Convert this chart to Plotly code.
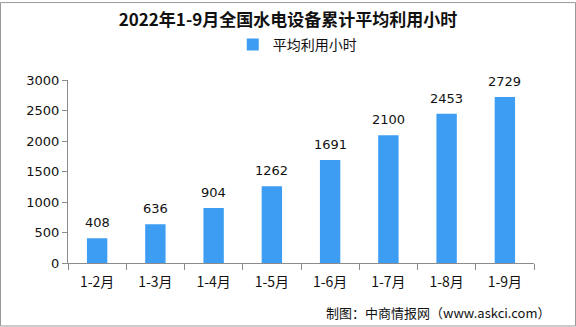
import plotly.graph_objects as go

categories = ["1-2月", "1-3月", "1-4月", "1-5月", "1-6月", "1-7月", "1-8月", "1-9月"]
values = [408, 636, 904, 1262, 1691, 2100, 2453, 2729]
series_name = "平均利用小时"
title_text = "2022年1-9月全国水电设备累计平均利用小时"
footer_text = "制图：中商情报网（www.askci.com）"
y_ticks = [0, 500, 1000, 1500, 2000, 2500, 3000]

CJK = "Noto Sans CJK SC"
bar_color = "#3d9df2"
axis_color = "#8c8c8c"

L, R, T, B = 68, 42, 79, 64
W, H = 576, 327
PW, PH = W - L - R, H - T - B


def px(x):
    return (x - L) / PW


def py(y):
    return (H - B - y) / PH


fig = go.Figure()
fig.add_trace(go.Bar(
    x=categories, y=values, name=series_name,
    marker=dict(color=bar_color, line=dict(width=0)),
    width=0.35,
))

for c, v in zip(categories, values):
    fig.add_annotation(x=c, y=v, xref="x", yref="y", text=str(v), showarrow=False,
                       yanchor="bottom", yshift=6,
                       font=dict(family="DejaVu Sans", size=13, color="#111111"))

fig.update_layout(
    width=W, height=H,
    margin=dict(l=L, r=R, t=T, b=B),
    paper_bgcolor="white", plot_bgcolor="rgba(0,0,0,0)",
    title=dict(text="<b>" + title_text + "</b>", x=0.5, xanchor="center",
               y=1 - 20 / H, yanchor="middle",
               font=dict(family=CJK, size=17, color="#111111")),
    showlegend=True,
    legend=dict(orientation="h", x=0.492, xanchor="center",
                y=1 - 45 / H, yref="container", yanchor="middle",
                font=dict(family=CJK, size=14, color="#111111"),
                itemwidth=30, bgcolor="rgba(0,0,0,0)"),
    xaxis=dict(showline=True, linecolor=axis_color, linewidth=1,
               ticks="outside", ticklen=6, tickcolor=axis_color,
               tickson="boundaries", showgrid=False, ticklabelstandoff=6,
               tickfont=dict(family=CJK, size=14, color="#111111")),
    yaxis=dict(range=[0, 3000], tickvals=y_ticks, showline=True,
               linecolor=axis_color, linewidth=1, ticks="outside", ticklen=5,
               tickcolor=axis_color, showgrid=False, zeroline=False,
               tickfont=dict(family="DejaVu Sans", size=13, color="#111111")),
)

fig.add_annotation(x=px(553), y=py(313), xref="paper", yref="paper",
                   text=footer_text, showarrow=False, xanchor="right", yanchor="middle",
                   font=dict(family=CJK, size=13, color="#111111"))

# paper border
fig.add_shape(type="rect", xref="paper", yref="paper",
              x0=px(0.5), x1=px(W - 0.5), y0=py(H - 0.5), y1=py(0.5),
              line=dict(color="#999999", width=1))

fig.write_html("out.html")
